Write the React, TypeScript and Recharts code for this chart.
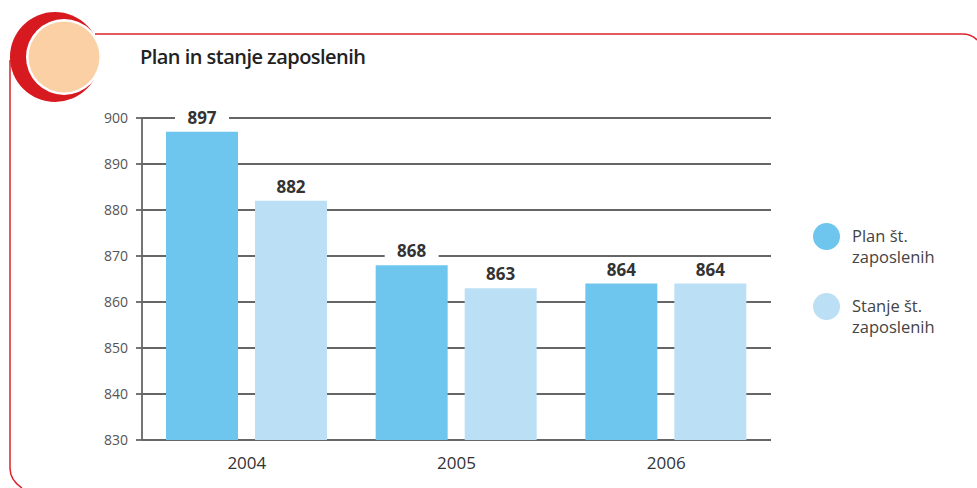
import React from 'react';
import { BarChart, Bar, XAxis, YAxis, CartesianGrid, LabelList } from 'recharts';

const years = ['2004', '2005', '2006'];
const planValues = [897, 868, 864];
const stanjeValues = [882, 863, 864];
const yTicks = [830, 840, 850, 860, 870, 880, 890, 900];
const edgeTicks = [0, 1, 2, 3];

const seriesNames = ['Plan št. zaposlenih', 'Stanje št. zaposlenih'];
const seriesColors = ['#6EC6EE', '#BBE0F5'];
const title = 'Plan in stanje zaposlenih';

const FONT = "'Open Sans', sans-serif";

const data = years.map((y, i) => ({ year: y, plan: planValues[i], stanje: stanjeValues[i] }));

const ValueLabel = (props: any) => {
  const { x, y, width, value } = props;
  const cx = x + width / 2;
  return (
    <g>
      <rect x={cx - 27} y={y - 25} width={54} height={21} fill="#fff" />
      <text x={cx} y={y - 8} textAnchor="middle" fontSize={17} fontWeight={700} fill="#333" fontFamily={FONT}>
        {value}
      </text>
    </g>
  );
};

// legend drawn by hand so it does not eat into the plot area
const LegendBox = () => (
  <div style={{ position: 'absolute', left: 813, top: 223, fontFamily: FONT }}>
    {seriesNames.map((name, i) => {
      const cut = name.lastIndexOf(' ');
      return (
        <div key={name} style={{ display: 'flex', alignItems: 'flex-start', height: 70 }}>
          <div style={{ width: 27, height: 27, borderRadius: '50%', background: seriesColors[i], marginRight: 12 }} />
          <div style={{ fontSize: 16.5, lineHeight: '21px', color: '#444', marginTop: 2 }}>
            <div>{name.slice(0, cut)}</div>
            <div>{name.slice(cut + 1)}</div>
          </div>
        </div>
      );
    })}
  </div>
);

const Frame = () => (
  <svg width={977} height={488} style={{ position: 'absolute', left: 0, top: 0 }}>
    <path d="M 95 34 L 962 34 Q 972 34 977 40" fill="none" stroke="#D9232D" strokeWidth={1.5} />
    <path d="M 10 60 L 10 468 Q 10 480 22 488" fill="none" stroke="#D9232D" strokeWidth={1.5} />
    <circle cx={55} cy={57} r={45} fill="#D71920" />
    <circle cx={64} cy={57} r={38} fill="#fff" />
    <circle cx={64} cy={57} r={35.5} fill="#FCD0A5" />
    <text x={140} y={64} fontSize={20} fontWeight={600} fill="#222" fontFamily={FONT} textLength={226}>{title}</text>
  </svg>
);

export default function App() {
  return (
    <div style={{ position: 'absolute', left: 0, top: 0, width: 977, height: 488, background: '#fff' }}>
      <Frame />
      <div style={{ position: 'absolute', left: 0, top: 0 }}>
        <BarChart
          width={977}
          height={488}
          data={data}
          margin={{ top: 118, right: 206, bottom: 0, left: 0 }}
          barCategoryGap={24}
          barGap={17}
        >
          <CartesianGrid vertical={false} stroke="#333" strokeWidth={1.3} />
          <XAxis
            xAxisId="edge"
            type="number"
            domain={[0, 3]}
            ticks={edgeTicks}
            tick={false}
            height={0}
            tickSize={7}
            stroke="#333"
            strokeWidth={1.3}
            allowDataOverflow
          />
          <XAxis
            xAxisId="cat"
            dataKey="year"
            axisLine={false}
            tickLine={false}
            tick={{ fill: '#333', fontSize: 17, fontFamily: FONT }}
            tickMargin={11}
            height={48}
          />
          <YAxis
            domain={[830, 900]}
            ticks={yTicks}
            width={142}
            tickSize={6}
            tickMargin={8}
            stroke="#666"
            strokeWidth={1.8}
            tick={{ fill: '#555', fontSize: 14, fontFamily: FONT }}
            allowDataOverflow
          />
          <Bar xAxisId="cat" dataKey="plan" name={seriesNames[0]} fill={seriesColors[0]} barSize={72} isAnimationActive={false}>
            <LabelList dataKey="plan" content={<ValueLabel />} />
          </Bar>
          <Bar xAxisId="cat" dataKey="stanje" name={seriesNames[1]} fill={seriesColors[1]} barSize={72} isAnimationActive={false}>
            <LabelList dataKey="stanje" content={<ValueLabel />} />
          </Bar>
        </BarChart>
      </div>
      <LegendBox />
    </div>
  );
}
